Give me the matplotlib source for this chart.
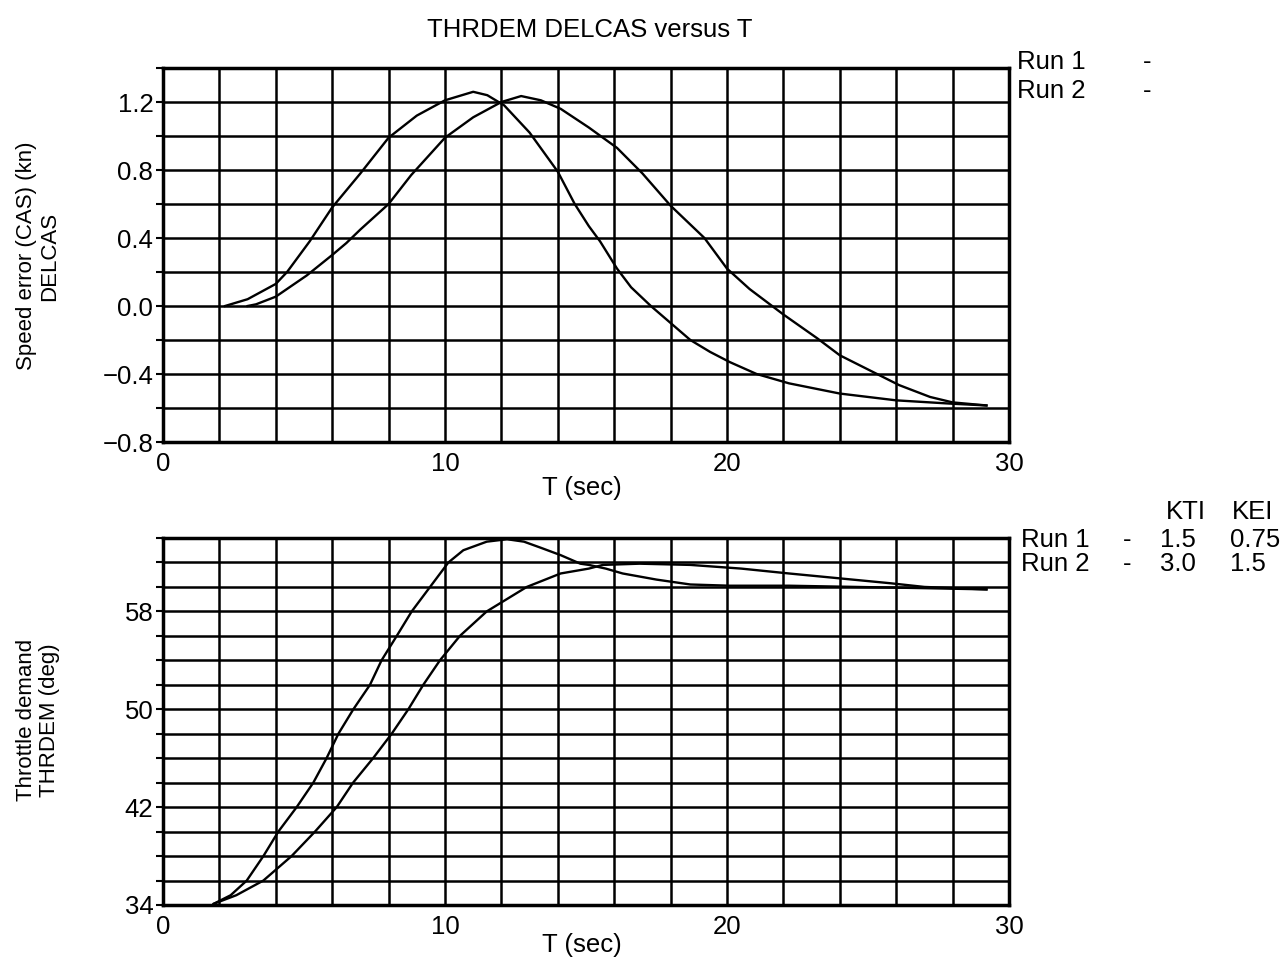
import numpy as np
import matplotlib.pyplot as plt

plt.rcParams['font.family'] = ['Liberation Sans', 'DejaVu Sans']

# speed error DELCAS (kn) against T (sec)
t_cas_1 = [2.2, 3.0, 4.0, 4.4, 5.2, 6.0, 7.0, 8.0, 9.0, 10.0, 11.0, 11.5, 12.1, 13.0, 14.0,
           14.6, 15.1, 15.5, 16.1, 16.6, 17.3, 18.7, 19.4, 20.1, 21.05, 22.2, 24.0, 26.0, 28.0, 29.2]
delcas_1 = [0.0, 0.04, 0.13, 0.20, 0.38, 0.58, 0.78, 0.99, 1.12, 1.21, 1.26, 1.24, 1.18, 1.02, 0.79,
            0.60, 0.47, 0.38, 0.22, 0.11, 0.0, -0.20, -0.27, -0.33, -0.40, -0.455, -0.515, -0.555, -0.575, -0.585]
t_cas_2 = [3.0, 3.3, 4.0, 5.1, 6.0, 6.5, 7.0, 8.0, 8.8, 10.0, 11.0, 12.0, 12.7, 13.4, 14.1,
           15.1, 16.1, 17.0, 18.0, 19.2, 20.0, 20.8, 22.0, 23.2, 24.0, 25.2, 26.1, 27.2, 28.0, 29.2]
delcas_2 = [0.0, 0.01, 0.055, 0.18, 0.30, 0.37, 0.45, 0.60, 0.77, 0.99, 1.11, 1.20, 1.235, 1.21, 1.16,
            1.05, 0.93, 0.78, 0.59, 0.40, 0.22, 0.10, -0.05, -0.19, -0.29, -0.39, -0.465, -0.535, -0.567, -0.585]

# throttle demand THRDEM (deg) against T (sec)
t_thr_1 = [1.8, 2.4, 2.97, 3.56, 4.09, 4.74, 5.33, 5.8, 6.22, 6.75, 7.34, 7.75, 8.29, 8.82, 9.47, 10.12,
           10.65, 11.48, 12.2, 12.8, 13.4, 14.1, 14.8, 15.1, 15.7, 16.3, 17.5, 18.7, 20.1, 22.2, 24.6, 27.0, 29.2]
thrdem_1 = [34.1, 34.8, 36.0, 38.0, 40.0, 42.0, 44.0, 46.0, 48.0, 50.0, 52.0, 54.0, 56.0, 58.0, 60.0, 62.0,
            63.0, 63.7, 63.9, 63.7, 63.2, 62.6, 61.9, 61.8, 61.5, 61.1, 60.6, 60.2, 60.1, 60.1, 60.0, 59.9, 59.8]
t_thr_2 = [1.8, 2.6, 3.56, 4.56, 5.39, 6.16, 6.74, 7.45, 8.11, 8.7, 9.23, 9.82, 10.53, 11.48, 12.9,
           14.1, 15.1, 15.6, 16.9, 18.7, 20.5, 22.2, 24.0, 25.8, 27.0, 29.2]
thrdem_2 = [34.1, 34.8, 36.0, 38.0, 40.0, 42.0, 44.0, 46.0, 48.0, 50.0, 52.0, 54.0, 56.0, 58.0, 60.0,
            61.1, 61.5, 61.8, 61.9, 61.8, 61.5, 61.1, 60.7, 60.3, 60.0, 59.8]

x_labels = [0, 10, 20, 30]
cas_labels = [-0.8, -0.4, 0.0, 0.4, 0.8, 1.2]
thr_labels = [34, 42, 50, 58]

W, H = 1285, 969
fs = 18.5


def px(x, y):
    return x / W, 1 - y / H


def grid_axes(ax, ylim, ystep, ylabels, fmt):
    ax.set_xlim(0, 30)
    ax.set_ylim(*ylim)
    xt = np.arange(0, 30.01, 2)
    ax.set_xticks(xt)
    ax.set_xticklabels([str(int(v)) if int(v) in x_labels else '' for v in xt])
    yt = np.arange(ylim[0], ylim[1] + ystep / 2, ystep)
    ax.set_yticks(yt)
    lab = []
    for v in yt:
        hit = [l for l in ylabels if abs(l - v) < 1e-6]
        lab.append(fmt(hit[0]).replace('-', '\u2212') if hit else '')
    ax.set_yticklabels(lab)
    ax.grid(True, color='black', lw=1.8)
    ax.tick_params(axis='x', length=0, pad=7, labelsize=fs)
    ax.tick_params(axis='y', length=5, width=1.5, pad=2, labelsize=fs)
    for s in ax.spines.values():
        s.set_linewidth(2.5)


fig = plt.figure(figsize=(12.85, 9.69), dpi=100)
ax1 = fig.add_axes([163 / W, 1 - 442 / H, 846 / W, 374 / H])
ax2 = fig.add_axes([163 / W, 1 - 905 / H, 846 / W, 367 / H])

grid_axes(ax1, (-0.8, 1.4), 0.2, cas_labels, lambda v: '%.1f' % v)
grid_axes(ax2, (34, 64), 2, thr_labels, lambda v: '%d' % v)

ax1.plot(t_cas_1, delcas_1, color='black', lw=1.7)
ax1.plot(t_cas_2, delcas_2, color='black', lw=1.7)
ax2.plot(t_thr_1, thrdem_1, color='black', lw=1.7)
ax2.plot(t_thr_2, thrdem_2, color='black', lw=1.7)

fig.text(*px(590, 30), 'THRDEM DELCAS versus T', ha='center', va='center', fontsize=fs)
fig.text(*px(582, 488), 'T (sec)', ha='center', va='center', fontsize=fs)
fig.text(*px(582, 945), 'T (sec)', ha='center', va='center', fontsize=fs)
fig.text(*px(38, 256), 'Speed error (CAS) (kn)\nDELCAS', ha='center', va='center',
         rotation=90, fontsize=16, linespacing=1.15)
fig.text(*px(38, 720), 'Throttle demand\nTHRDEM (deg)', ha='center', va='center',
         rotation=90, fontsize=16, linespacing=1.15)

# run key, top panel
fig.text(*px(1017, 62), 'Run 1', va='center', fontsize=fs)
fig.text(*px(1017, 91), 'Run 2', va='center', fontsize=fs)
fig.text(*px(1147, 62), '-', ha='center', va='center', fontsize=fs)
fig.text(*px(1147, 91), '-', ha='center', va='center', fontsize=fs)

# run key with gains, bottom panel
fig.text(*px(1166, 512), 'KTI', va='center', fontsize=fs)
fig.text(*px(1232, 512), 'KEI', va='center', fontsize=fs)
fig.text(*px(1021, 540), 'Run 1', va='center', fontsize=fs)
fig.text(*px(1021, 564), 'Run 2', va='center', fontsize=fs)
fig.text(*px(1127, 540), '-', ha='center', va='center', fontsize=fs)
fig.text(*px(1127, 564), '-', ha='center', va='center', fontsize=fs)
fig.text(*px(1160, 540), '1.5', va='center', fontsize=fs)
fig.text(*px(1160, 564), '3.0', va='center', fontsize=fs)
fig.text(*px(1230, 540), '0.75', va='center', fontsize=fs)
fig.text(*px(1230, 564), '1.5', va='center', fontsize=fs)

fig.savefig('out.png', dpi=100)
